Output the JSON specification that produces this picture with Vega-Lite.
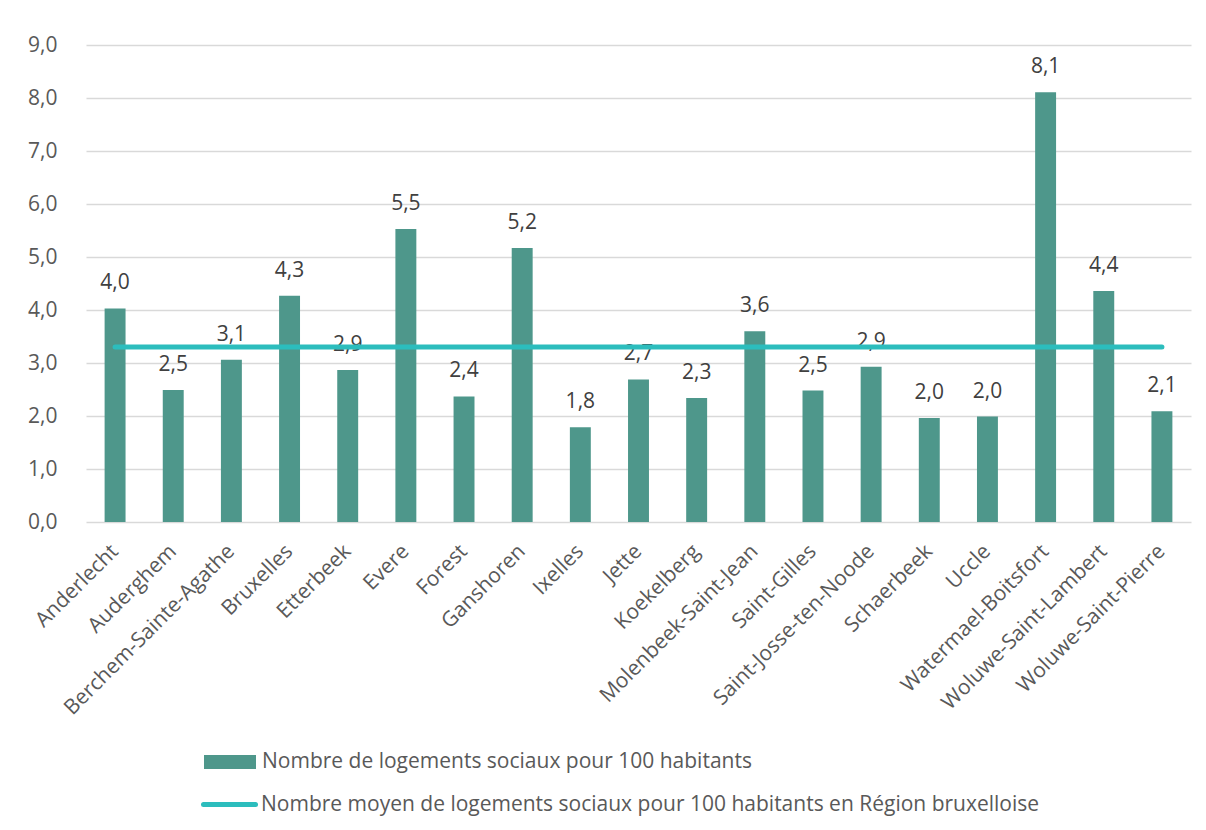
{
  "$schema": "https://vega.github.io/schema/vega-lite/v6.json",
  "width": 1105,
  "height": 477,
  "autosize": {"type": "none"},
  "padding": {"left": 86, "top": 45, "right": 15, "bottom": 308},
  "background": "white",
  "config": {
    "locale": {"number": {"decimal": ",", "thousands": " ", "grouping": [3], "currency": ["", " €"]}},
    "view": {"stroke": null},
    "font": "Open Sans",
    "axis": {"labelFont": "Open Sans", "labelFontSize": 21, "labelColor": "#595959", "labelLimit": 0},
    "legend": {"labelFont": "Open Sans", "labelFontSize": 21, "labelColor": "#595959", "padding": 0, "labelLimit": 0}
  },
  "data": {
    "values": [
      {"commune": "Anderlecht", "valeur": 4.03, "moyenne": 3.3, "serie": "Nombre de logements sociaux pour 100 habitants", "serie2": "Nombre moyen de logements sociaux pour 100 habitants en Région bruxelloise"},
      {"commune": "Auderghem", "valeur": 2.49, "moyenne": 3.3, "serie": "Nombre de logements sociaux pour 100 habitants", "serie2": "Nombre moyen de logements sociaux pour 100 habitants en Région bruxelloise"},
      {"commune": "Berchem-Sainte-Agathe", "valeur": 3.06, "moyenne": 3.3, "serie": "Nombre de logements sociaux pour 100 habitants", "serie2": "Nombre moyen de logements sociaux pour 100 habitants en Région bruxelloise"},
      {"commune": "Bruxelles", "valeur": 4.27, "moyenne": 3.3, "serie": "Nombre de logements sociaux pour 100 habitants", "serie2": "Nombre moyen de logements sociaux pour 100 habitants en Région bruxelloise"},
      {"commune": "Etterbeek", "valeur": 2.87, "moyenne": 3.3, "serie": "Nombre de logements sociaux pour 100 habitants", "serie2": "Nombre moyen de logements sociaux pour 100 habitants en Région bruxelloise"},
      {"commune": "Evere", "valeur": 5.53, "moyenne": 3.3, "serie": "Nombre de logements sociaux pour 100 habitants", "serie2": "Nombre moyen de logements sociaux pour 100 habitants en Région bruxelloise"},
      {"commune": "Forest", "valeur": 2.37, "moyenne": 3.3, "serie": "Nombre de logements sociaux pour 100 habitants", "serie2": "Nombre moyen de logements sociaux pour 100 habitants en Région bruxelloise"},
      {"commune": "Ganshoren", "valeur": 5.17, "moyenne": 3.3, "serie": "Nombre de logements sociaux pour 100 habitants", "serie2": "Nombre moyen de logements sociaux pour 100 habitants en Région bruxelloise"},
      {"commune": "Ixelles", "valeur": 1.79, "moyenne": 3.3, "serie": "Nombre de logements sociaux pour 100 habitants", "serie2": "Nombre moyen de logements sociaux pour 100 habitants en Région bruxelloise"},
      {"commune": "Jette", "valeur": 2.69, "moyenne": 3.3, "serie": "Nombre de logements sociaux pour 100 habitants", "serie2": "Nombre moyen de logements sociaux pour 100 habitants en Région bruxelloise"},
      {"commune": "Koekelberg", "valeur": 2.34, "moyenne": 3.3, "serie": "Nombre de logements sociaux pour 100 habitants", "serie2": "Nombre moyen de logements sociaux pour 100 habitants en Région bruxelloise"},
      {"commune": "Molenbeek-Saint-Jean", "valeur": 3.6, "moyenne": 3.3, "serie": "Nombre de logements sociaux pour 100 habitants", "serie2": "Nombre moyen de logements sociaux pour 100 habitants en Région bruxelloise"},
      {"commune": "Saint-Gilles", "valeur": 2.48, "moyenne": 3.3, "serie": "Nombre de logements sociaux pour 100 habitants", "serie2": "Nombre moyen de logements sociaux pour 100 habitants en Région bruxelloise"},
      {"commune": "Saint-Josse-ten-Noode", "valeur": 2.93, "moyenne": 3.3, "serie": "Nombre de logements sociaux pour 100 habitants", "serie2": "Nombre moyen de logements sociaux pour 100 habitants en Région bruxelloise"},
      {"commune": "Schaerbeek", "valeur": 1.96, "moyenne": 3.3, "serie": "Nombre de logements sociaux pour 100 habitants", "serie2": "Nombre moyen de logements sociaux pour 100 habitants en Région bruxelloise"},
      {"commune": "Uccle", "valeur": 1.99, "moyenne": 3.3, "serie": "Nombre de logements sociaux pour 100 habitants", "serie2": "Nombre moyen de logements sociaux pour 100 habitants en Région bruxelloise"},
      {"commune": "Watermael-Boitsfort", "valeur": 8.11, "moyenne": 3.3, "serie": "Nombre de logements sociaux pour 100 habitants", "serie2": "Nombre moyen de logements sociaux pour 100 habitants en Région bruxelloise"},
      {"commune": "Woluwe-Saint-Lambert", "valeur": 4.36, "moyenne": 3.3, "serie": "Nombre de logements sociaux pour 100 habitants", "serie2": "Nombre moyen de logements sociaux pour 100 habitants en Région bruxelloise"},
      {"commune": "Woluwe-Saint-Pierre", "valeur": 2.09, "moyenne": 3.3, "serie": "Nombre de logements sociaux pour 100 habitants", "serie2": "Nombre moyen de logements sociaux pour 100 habitants en Région bruxelloise"}
    ]
  },
  "encoding": {
    "x": {
      "field": "commune", "type": "nominal", "sort": null,
      "scale": {"paddingInner": 0.64, "paddingOuter": 0.32},
      "axis": {"title": null, "labelAngle": -45, "labelPadding": 26, "ticks": false, "domain": false, "labelAlign": "right", "labelBaseline": "middle"}
    },
    "y": {
      "field": "valeur", "type": "quantitative",
      "scale": {"domain": [0, 9], "nice": false},
      "axis": {"title": null, "format": ".1f", "values": [0,1,2,3,4,5,6,7,8,9], "labelPadding": 29, "ticks": false, "domain": false, "gridColor": "#d9d9d9", "gridWidth": 1.5, "labelOverlap": false}
    }
  },
  "layer": [
    {
      "mark": {"type": "bar", "color": "#4e978b"},
      "encoding": {
        "color": {
          "field": "serie", "type": "nominal",
          "scale": {"range": ["#4e978b"]},
          "legend": {"title": null, "orient": "none", "legendX": 118, "legendY": 691, "symbolType": "M-1,-0.27H1V0.27H-1Z", "symbolSize": 2704, "symbolOpacity": 1, "symbolStrokeWidth": 0, "labelOffset": 6}
        }
      }
    },
    {
      "mark": {"type": "text", "dy": -19, "baseline": "alphabetic", "fontSize": 21, "color": "#404040", "font": "Open Sans"},
      "encoding": {
        "text": {"field": "valeur", "type": "quantitative", "format": ".1f"}
      }
    },
    {
      "mark": {"type": "line", "strokeWidth": 5, "strokeCap": "round"},
      "encoding": {
        "y": {"field": "moyenne", "type": "quantitative"},
        "stroke": {
          "field": "serie2", "type": "nominal",
          "scale": {"range": ["#2cbdbd"]},
          "legend": {"title": null, "orient": "none", "legendX": 115, "legendY": 731, "symbolType": "stroke", "symbolSize": 2704, "symbolStrokeWidth": 5, "labelOffset": 3,
            "encode": {"symbols": {"update": {"strokeCap": {"value": "round"}}}}}
        }
      }
    }
  ]
}
